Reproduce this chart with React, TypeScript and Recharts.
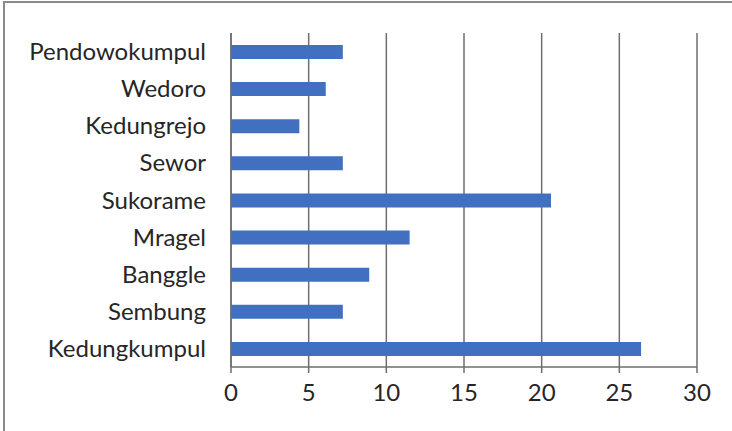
import React from 'react';
import { BarChart, Bar, XAxis, YAxis, CartesianGrid } from 'recharts';

const desa = [
  'Pendowokumpul',
  'Wedoro',
  'Kedungrejo',
  'Sewor',
  'Sukorame',
  'Mragel',
  'Banggle',
  'Sembung',
  'Kedungkumpul',
];
const nilai = [7.2, 6.1, 4.4, 7.2, 20.6, 11.5, 8.9, 7.2, 26.4];
const xTicks = [0, 5, 10, 15, 20, 25, 30];

const data = desa.map((name, i) => ({ name, value: nilai[i] }));

const FONT = 'Lato, "Open Sans", sans-serif';

export default function App() {
  return (
    <div style={{ position: 'absolute', left: 0, top: 0, width: 732, height: 431, background: '#fff' }}>
      <div
        style={{
          position: 'absolute',
          left: 3,
          top: 1,
          width: 729,
          height: 430,
          borderLeft: '2px solid #8a8a8a',
          borderTop: '2px solid #8a8a8a',
        }}
      />
      <div style={{ position: 'absolute', left: 0, top: 0 }}>
        <BarChart
          width={732}
          height={431}
          layout="vertical"
          data={data}
          margin={{ top: 33, right: 35, bottom: 0, left: 0 }}
        >
          <CartesianGrid horizontal={false} stroke="#6e6e6e" strokeWidth={1.5} />
          <XAxis
            type="number"
            domain={[0, 30]}
            ticks={xTicks}
            interval={0}
            height={64}
            axisLine={{ stroke: '#6e6e6e', strokeWidth: 1.5 }}
            tickLine={{ stroke: '#6e6e6e', strokeWidth: 1.5 }}
            tickSize={6}
            tickMargin={11}
            tick={{ fill: '#262626', fontSize: 24, fontFamily: FONT }}
          />
          <YAxis
            type="category"
            dataKey="name"
            width={231}
            axisLine={{ stroke: '#6e6e6e', strokeWidth: 1.5 }}
            tickLine={false}
            tickSize={0}
            tickMargin={25}
            interval={0}
            tick={{ fill: '#262626', fontSize: 24, fontFamily: FONT }}
          />
          <Bar dataKey="value" fill="#4170c0" barSize={14} isAnimationActive={false} />
        </BarChart>
      </div>
    </div>
  );
}
